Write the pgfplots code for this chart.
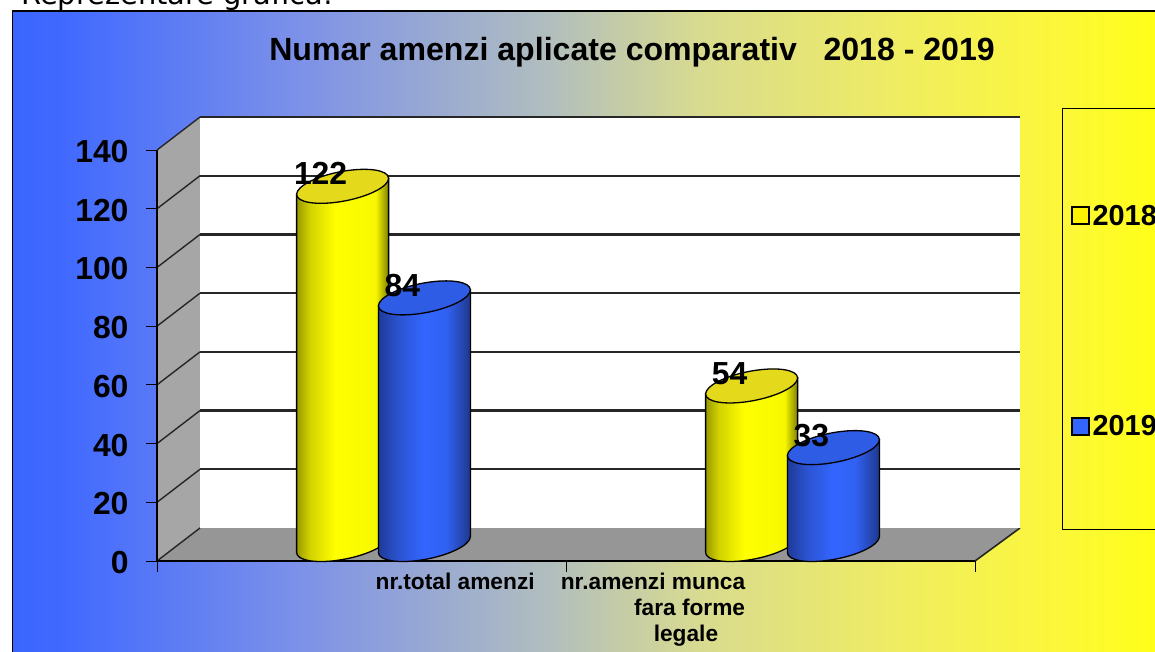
\documentclass[border=0pt]{standalone}
\usepackage{pgfplots}
\pgfplotsset{compat=1.18}
\usepackage{fontspec}
\setmainfont{Liberation Sans}
\newfontfamily\topfont{DejaVu Sans}
\definecolor{wallgray}{HTML}{A6A6A6}
\definecolor{floorgray}{HTML}{969696}
\definecolor{barblue}{HTML}{3366FF}
\pgfdeclarehorizontalshading{bgshade}{100bp}{
  rgb(0bp)=(0.227,0.4,1);
  rgb(25bp)=(0.227,0.4,1);
  rgb(27.1bp)=(0.25,0.41,1);
  rgb(37.6bp)=(0.49,0.57,0.91);
  rgb(48.1bp)=(0.69,0.74,0.75);
  rgb(55.1bp)=(0.85,0.86,0.56);
  rgb(63.8bp)=(0.94,0.93,0.38);
  rgb(70.8bp)=(0.99,0.97,0.22);
  rgb(75bp)=(1,1,0.09);
  rgb(100bp)=(1,1,0.09)}
\pgfdeclarehorizontalshading{ycyl}{100bp}{
  rgb(0bp)=(0.6,0.6,0);
  rgb(25bp)=(0.6,0.6,0);
  rgb(32bp)=(0.82,0.82,0);
  rgb(46bp)=(1,1,0);
  rgb(68bp)=(0.97,0.97,0);
  rgb(75bp)=(0.5,0.5,0);
  rgb(100bp)=(0.5,0.5,0)}
\pgfdeclarehorizontalshading{bcyl}{100bp}{
  rgb(0bp)=(0.12,0.23,0.6);
  rgb(25bp)=(0.12,0.23,0.6);
  rgb(36bp)=(0.17,0.33,0.82);
  rgb(50bp)=(0.2,0.4,1);
  rgb(62bp)=(0.19,0.38,0.95);
  rgb(75bp)=(0.12,0.22,0.55);
  rgb(100bp)=(0.12,0.22,0.55)}
% a cylinder whose height comes from the data value \v of the point
\newcommand\cylinderbody[2]{%
  \pgfscope
    \pgftransformshift{\pgfpoint{22bp}{16.5bp}}%
    \pgfmathsetmacro\h{\v*2.936}%
    \pgfsetlinewidth{1.3bp}\pgfsetstrokecolor{black}%
    \pgfpathmoveto{\pgfpoint{-46bp}{-8bp}}%
    \pgfpathlineto{\pgfpoint{46bp}{8bp}}%
    \pgfpathlineto{\pgfpoint{46bp}{8bp-\h bp}}%
    \pgfpatharcaxes{0}{-180}{\pgfpoint{46bp}{8bp}}{\pgfpoint{0bp}{15bp}}%
    \pgfpathclose
    \pgfshadepath{#1}{0}%
    \pgfusepath{stroke}%
    \pgfsetfillcolor{#2}%
    \pgfpathellipse{\pgfpointorigin}{\pgfpoint{46bp}{8bp}}{\pgfpoint{0bp}{15bp}}%
    \pgfusepath{fill,stroke}%
  \endpgfscope}
\colorlet{ytop}{yellow!88!black}
\colorlet{btop}{barblue!90!black}
\pgfdeclareplotmark{cylY}{\cylinderbody{ycyl}{ytop}}
\pgfdeclareplotmark{cylB}{\cylinderbody{bcyl}{btop}}
\pgfplotstableread{
x y
0.4 122
1.4 54
}\tabA
\pgfplotstableread{
x y
0.6 84
1.6 33
}\tabB
\begin{document}
\begin{tikzpicture}[x=1bp,y=1bp]
\begin{scope}
\clip (0,0) rectangle (1155,652);
\node[anchor=base west,font=\topfont\fontsize{29}{32}\selectfont,inner sep=0pt] at (21,647.5) {Reprezentare grafică:};
\path[shading=bgshade,draw=black,line width=1.5bp] (12.5,-2) rectangle (1160,641);
% side wall and floor
\fill[wallgray] (157,91) -- (200,124) -- (200,535) -- (157,502) -- cycle;
\fill[floorgray] (157,91) -- (975,91) -- (1020,124) -- (200,124) -- cycle;
\draw[black!85,line width=1.6bp] (975,91) -- (1020,124);
\foreach \yy in {0,...,7}{
  \draw[black!85,line width=1.4bp] (157,91+58.71*\yy) -- (200,124+58.71*\yy);
}
% legend box
\draw[black,line width=0.9bp] (1062.5,123) rectangle (1170,544);
% back wall, with its grid
\begin{axis}[
  at={(200bp,124bp)},anchor=south west,scale only axis,
  width=820bp,height=411bp,
  xmin=0,xmax=2,ymin=0,ymax=140,
  ytick={20,40,60,80,100,120,140},xtick=\empty,
  yticklabels={},
  major tick length=0pt,
  ymajorgrids,
  grid style={black!85,line width=2.2bp},
  axis background/.style={fill=white},
  axis line style={draw=none},
]
\end{axis}
% front axis with the data
\begin{axis}[
  at={(157bp,91bp)},anchor=south west,scale only axis,
  width=818bp,height=411bp,
  xmin=0,xmax=2,ymin=0,ymax=140,
  axis x line*=bottom,axis y line*=left,
  axis line style={black,line width=1.5bp,-},
  clip=false,
  xtick={0,1,2},xticklabels={},
  extra x ticks={0.729,1.2127},
  extra x tick labels={nr.total amenzi,{nr.amenzi munca\\fara forme\\legale\hspace*{27bp}}},
  extra x tick style={major tick length=0pt,
    tick label style={align=right,anchor=north,yshift=-9bp,
      font=\bfseries\fontsize{22.8}{26}\selectfont}},
  ytick={0,20,...,140},
  tick align=outside,
  major tick length=11bp,
  tick style={black,line width=0.9bp},
  /pgf/number format/assume math mode=true,
  yticklabel style={font=\bfseries\fontsize{32}{32}\selectfont,xshift=-14bp,yshift=-1.5bp},
  title={Numar amenzi aplicate comparativ\hspace{0.55em} 2018 - 2019},
  title style={at={(0.5807,1.2457)},anchor=center,yshift=-9bp,
    font=\bfseries\fontsize{32.2}{34}\selectfont},
  legend style={at={(1.1174,0.8713)},anchor=north west,draw=none,fill=none,
    font=\bfseries\fontsize{29}{30}\selectfont,
    row sep=185bp,inner sep=0pt,outer sep=0pt},
  legend cell align=left,
]
\addplot[scatter,only marks,mark=cylY,scatter src=y,
  scatter/use mapped color={draw=black,fill=black},
  visualization depends on={rawy \as \v},
  legend image code/.code={\draw[black,line width=1.7bp,fill=yellow] (0bp,-8.5bp) rectangle (17bp,8.5bp);\path (18.5bp,0bp);}]
  table[x=x,y=y] {\tabA};
\addlegendentry{2018}
\addplot[scatter,only marks,mark=cylB,scatter src=y,
  scatter/use mapped color={draw=black,fill=black},
  visualization depends on={rawy \as \v},
  legend image code/.code={\draw[black,line width=1.7bp,fill=barblue] (0bp,-8.5bp) rectangle (17bp,8.5bp);\path (18.5bp,0bp);}]
  table[x=x,y=y] {\tabB};
\addlegendentry{2019}
% value labels, above both sets of cylinders
\pgfplotsset{every node near coord/.style={anchor=center,xshift=0bp,yshift=29bp,
    font=\bfseries\fontsize{32}{32}\selectfont,text=black}}
\addplot[forget plot,only marks,mark=none,point meta=y,
  nodes near coords={\pgfmathprintnumber{\pgfplotspointmeta}}]
  table[x=x,y=y] {\tabA};
\addplot[forget plot,only marks,mark=none,point meta=y,
  nodes near coords={\pgfmathprintnumber{\pgfplotspointmeta}}]
  table[x=x,y=y] {\tabB};
\end{axis}
\end{scope}
\pgfresetboundingbox
\path[use as bounding box] (0,0) rectangle (1155,652);
\end{tikzpicture}
\end{document}
